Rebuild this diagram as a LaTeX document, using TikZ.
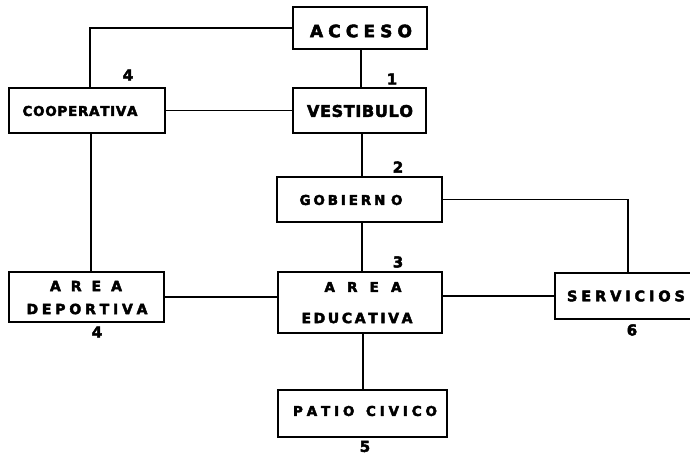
\documentclass[tikz,border=0pt]{standalone}
\usepackage{fontspec}
\newfontfamily\lett{DejaVu Sans}[BoldFeatures={FakeBold=3}]
\newcommand\sptxt[3]{{\fontsize{#2}{#2}\selectfont\makebox[#1pt][s]{#3}}}
\tikzset{
  box/.style={draw, line width=1.5pt, inner sep=0pt, rectangle},
  lbl/.style={font=\lett\bfseries, inner sep=0pt},
  num/.style={font=\lett\bfseries\fontsize{15}{15}\selectfont, inner sep=0pt},
  wire/.style={line width=1.4pt}
}
\begin{document}
\begin{tikzpicture}[x=1pt,y=-1pt]
\useasboundingbox (0,0) rectangle (690,454);
% boxes
\node[box, minimum width=134pt, minimum height=42pt] (acc) at (360,28) {};
\node[box, minimum width=133pt, minimum height=45pt] (vest) at (359.5,110.5) {};
\node[box, minimum width=156pt, minimum height=45pt] (coop) at (87,110.5) {};
\node[box, minimum width=165pt, minimum height=45pt] (gob) at (359.5,199.5) {};
\node[box, minimum width=164pt, minimum height=61pt] (edu) at (360,302.5) {};
\node[box, minimum width=155pt, minimum height=50pt] (dep) at (86.5,297) {};
\node[inner sep=0pt, minimum width=135pt, minimum height=46pt] (serv) at (622.5,296) {};
\node[box, minimum width=169pt, minimum height=47pt] (patio) at (362.5,413.5) {};
\draw[line width=1.5pt] (serv.north east) -- (serv.north west) -- (serv.south west) -- (serv.south east);
% texts
\node[lbl] (tacc) at (361,31) {\sptxt{102}{17}{A\hfil C\hfil C\hfil E\hfil S\hfil O}};
\node[lbl] (tvest) at (360,111) {\sptxt{106}{16}{V\hfil E\hfil S\hfil T\hfil I\hfil B\hfil U\hfil L\hfil O}};
\node[lbl] (tcoop) at (80,111) {\sptxt{115}{13.5}{C\hfil O\hfil O\hfil P\hfil E\hfil R\hfil A\hfil T\hfil I\hfil V\hfil A}};
\node[lbl] (tgob) at (351,200) {\sptxt{103}{13.5}{G\hfil O\hfil B\hfil I\hfil E\hfil R\hfil N\hfil\hfil O}};
\node[lbl] (tedu1) at (363,287) {\sptxt{77}{13.5}{A\hfil R\hfil E\hfil A}};
\node[lbl] (tedu2) at (357,318) {\sptxt{111}{14}{E\hfil D\hfil U\hfil C\hfil A\hfil T\hfil I\hfil V\hfil A}};
\node[lbl] (tserv) at (626,296) {\sptxt{118}{14.5}{S\hfil E\hfil R\hfil V\hfil I\hfil C\hfil I\hfil O\hfil S}};
\node[lbl] (tdep1) at (86,286) {\sptxt{72}{14}{A\hfil R\hfil E\hfil A}};
\node[lbl] (tdep2) at (87,309) {\sptxt{121}{14}{D\hfil E\hfil P\hfil O\hfil R\hfil T\hfil I\hfil V\hfil A}};
\node[lbl] (tpatio) at (365,411) {\sptxt{144}{13.5}{P\hfil A\hfil T\hfil I\hfil O\hfil\hfil\hfil C\hfil I\hfil V\hfil I\hfil C\hfil O}};
% numbers
\node[num] (n4a) at (128,75) {4};
\node[num] (n1) at (392,79) {1};
\node[num] (n2) at (398,167) {2};
\node[num] (n3) at (398,262) {3};
\node[num] (n6) at (632,330) {6};
\node[num] (n4b) at (97,332) {4};
\node[num] (n5) at (365,446.5) {5};
% connectors
\draw[wire] (acc.west) -| ([xshift=3pt]coop.north);
\draw[wire] ([xshift=1pt]acc.south) -- ([xshift=1pt]acc.south |- vest.north);
\draw[wire] (coop.east) -- (vest.west);
\draw[wire] ([xshift=2.5pt]vest.south) -- ([xshift=2.5pt]vest.south |- gob.north);
\draw[wire] ([xshift=4pt]coop.south) -- ([xshift=4pt]coop.south |- dep.north);
\draw[wire] (gob.east) -| ([xshift=5.5pt]serv.north);
\draw[wire] ([xshift=2.5pt]gob.south) -- ([xshift=2.5pt]gob.south |- edu.north);
\draw[wire] (dep.east) -- (dep.east -| edu.west);
\draw[wire] (serv.west -| edu.east) -- (serv.west);
\draw[wire] ([xshift=3pt]edu.south) -- ([xshift=3pt]edu.south |- patio.north);
\end{tikzpicture}
\end{document}
